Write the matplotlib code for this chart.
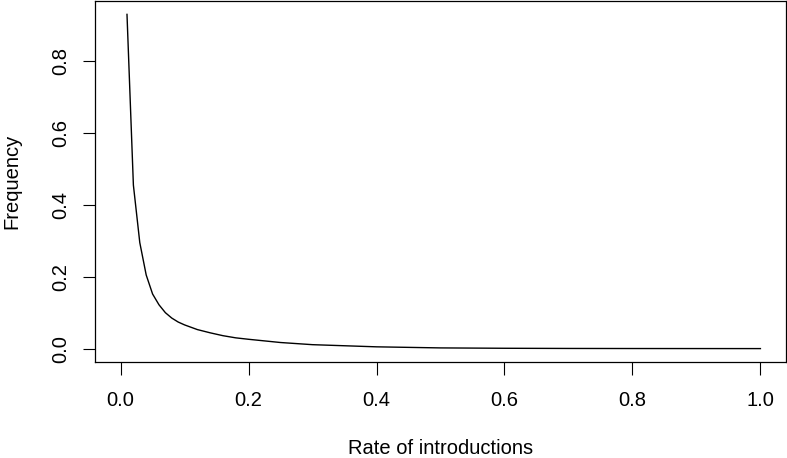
import numpy as np
import matplotlib.pyplot as plt

plt.rcParams['font.family'] = ['Liberation Sans', 'DejaVu Sans']

# values
rate = [0.01, 0.02, 0.03, 0.04, 0.05, 0.06, 0.07, 0.08, 0.09, 0.10,
        0.12, 0.14, 0.16, 0.18, 0.20, 0.25, 0.30, 0.35, 0.40, 0.50,
        0.60, 0.70, 0.80, 0.90, 1.00]
freq = [0.930, 0.455, 0.295, 0.205, 0.152, 0.122, 0.100, 0.085, 0.074, 0.066,
        0.053, 0.044, 0.036, 0.030, 0.026, 0.017, 0.011, 0.008, 0.005, 0.002,
        0.001, 0.0005, 0.0003, 0.0002, 0.0001]
xticks = [0.0, 0.2, 0.4, 0.6, 0.8, 1.0]
yticks = [0.0, 0.2, 0.4, 0.6, 0.8]

fig = plt.figure(figsize=(7.87, 4.58), dpi=100)
ax = fig.add_axes([95 / 787, 1 - 362 / 458, (786 - 95) / 787, 361 / 458])

ax.plot(rate, freq, color='black', lw=1.0)

ax.set_xlim(-0.04, 1.04)
ax.set_ylim(-0.0372, 0.9672)
ax.set_xticks(xticks)
ax.set_xticklabels(["{:.1f}".format(v) for v in xticks])
ax.set_yticks(yticks)
ax.set_yticklabels(["{:.1f}".format(v) for v in yticks], rotation=90, va='center')

ax.tick_params(axis='both', direction='out', length=9, width=0.8, labelsize=14.5)
ax.tick_params(axis='x', pad=12)
ax.tick_params(axis='y', pad=9)

for s in ax.spines.values():
    s.set_linewidth(0.9)

ax.set_xlabel('Rate of introductions', fontsize=14.5, labelpad=21)
ax.set_ylabel('Frequency', fontsize=14.5, labelpad=21)

fig.savefig('out.png', dpi=100)
